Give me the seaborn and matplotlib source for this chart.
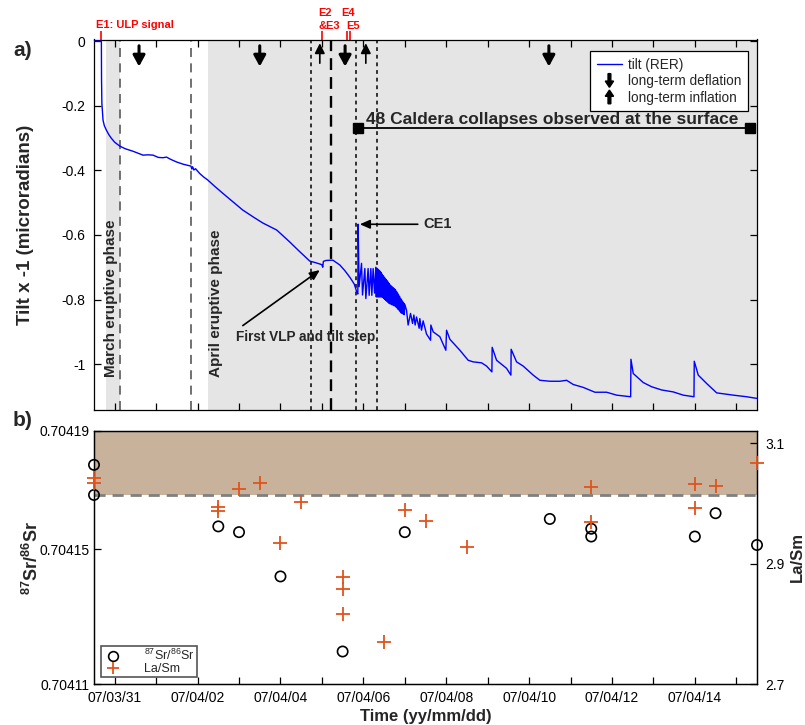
import matplotlib
matplotlib.use("Agg")
import numpy as np
import pandas as pd
import matplotlib.pyplot as plt
import matplotlib.dates as mdates
from matplotlib.patches import FancyArrow
from matplotlib.legend_handler import HandlerPatch
from matplotlib.lines import Line2D
import seaborn as sns

# ---------------- DATA ----------------
T0 = "2007-03-31"
# tilt (RER) trace: days after 2007-03-31 00:00, tilt x -1 (microradians)
tilt_day = [-0.50, -0.322, -0.318, -0.31, -0.282, -0.25, -0.20, -0.14, -0.08, 0.0,
            0.121, 0.25, 0.442, 0.683, 0.80, 0.925, 1.05, 1.166, 1.248, 1.35,
            1.490, 1.65, 1.811, 1.84, 1.86, 1.88, 1.91, 1.95, 2.052, 2.15,
            2.245, 2.40, 2.607, 2.85, 3.090, 3.35, 3.573, 3.911, 4.225, 4.45,
            4.708, 4.85, 4.998, 5.020, 5.035, 5.10, 5.263, 5.432, 5.55, 5.674,
            5.78, 5.843, 5.867, 5.874, 5.898,
            5.956, 5.980, 6.036, 6.060, 6.115, 6.140, 6.181, 6.205, 6.236, 6.270,
            6.3000, 6.3125, 6.3250, 6.3375, 6.3500, 6.3625, 6.3750, 6.3875, 6.4000, 6.4125,
            6.4250, 6.4375, 6.4500, 6.4625, 6.4750, 6.4875, 6.5000, 6.5125, 6.5250, 6.5375,
            6.5500, 6.5625, 6.5750, 6.5875, 6.6000, 6.6125, 6.6250, 6.6375, 6.6500, 6.6625,
            6.6750, 6.6875, 6.7000, 6.7125, 6.7250, 6.7375, 6.7500, 6.7625, 6.7750, 6.7875,
            6.8000, 6.8125, 6.8250, 6.8375, 6.8500, 6.8625, 6.8750, 6.8875, 6.9000, 6.9125,
            6.9250, 6.9375, 6.9500, 6.9625, 6.9750, 6.9875, 7.0000,
            7.042, 7.081, 7.139, 7.187, 7.219, 7.250, 7.284, 7.347, 7.363, 7.404,
            7.443, 7.525, 7.622, 7.629, 7.685, 7.846, 7.991, 8.008, 8.088, 8.329,
            8.530, 8.650, 8.853, 8.974, 9.102, 9.109, 9.215, 9.456, 9.561, 9.567,
            9.698, 9.857, 10.099, 10.261, 10.502, 10.744, 10.905, 11.065, 11.306, 11.589,
            11.871, 12.113, 12.451, 12.458, 12.513, 12.755, 12.957, 13.199, 13.479, 13.720,
            13.979, 13.986, 14.082, 14.285, 14.527, 14.927, 15.251, 15.493]
tilt_val = [0.0, 0.0, -0.120, -0.192, -0.245, -0.262, -0.276, -0.290, -0.301, -0.313,
            -0.325, -0.333, -0.341, -0.353, -0.352, -0.353, -0.360, -0.361, -0.359, -0.366,
            -0.374, -0.381, -0.386, -0.387, -0.396, -0.389, -0.399, -0.395, -0.410, -0.421,
            -0.430, -0.448, -0.471, -0.497, -0.523, -0.545, -0.563, -0.585, -0.622, -0.650,
            -0.681, -0.686, -0.692, -0.700, -0.682, -0.679, -0.678, -0.693, -0.710, -0.731,
            -0.752, -0.777, -0.783, -0.567, -0.760,
            -0.688, -0.786, -0.704, -0.797, -0.704, -0.787, -0.704, -0.787, -0.704, -0.780,
            -0.700, -0.792, -0.703, -0.792, -0.706, -0.792, -0.709, -0.792, -0.712, -0.792,
            -0.716, -0.792, -0.721, -0.793, -0.726, -0.796, -0.730, -0.799, -0.734, -0.802,
            -0.738, -0.805, -0.742, -0.808, -0.746, -0.811, -0.751, -0.813, -0.755, -0.814,
            -0.758, -0.816, -0.761, -0.817, -0.764, -0.819, -0.767, -0.820, -0.770, -0.823,
            -0.775, -0.826, -0.780, -0.830, -0.786, -0.833, -0.791, -0.837, -0.797, -0.841,
            -0.802, -0.843, -0.807, -0.845, -0.811, -0.847, -0.815,
            -0.833, -0.879, -0.843, -0.874, -0.848, -0.879, -0.854, -0.889, -0.859, -0.895,
            -0.866, -0.907, -0.926, -0.879, -0.900, -0.915, -0.957, -0.895, -0.923, -0.957,
            -0.988, -0.993, -0.996, -1.006, -1.024, -0.948, -0.988, -1.013, -1.034, -0.954,
            -0.993, -1.006, -1.034, -1.050, -1.053, -1.053, -1.050, -1.063, -1.072, -1.087,
            -1.087, -1.096, -1.101, -0.985, -1.029, -1.057, -1.070, -1.080, -1.086, -1.096,
            -1.101, -0.991, -1.034, -1.060, -1.089, -1.096, -1.101, -1.106]

# 87Sr/86Sr samples
sr_time = ["2007-03-30 12:00", "2007-03-30 12:00", "2007-04-02 12:00", "2007-04-03 00:00",
           "2007-04-04 00:00", "2007-04-05 12:00", "2007-04-07 00:00", "2007-04-10 12:00",
           "2007-04-11 12:00", "2007-04-11 12:00", "2007-04-14 00:00", "2007-04-14 12:00",
           "2007-04-15 12:00"]
sr_val = [0.7041749, 0.7041660, 0.7041567, 0.7041550, 0.7041419, 0.7041197, 0.7041550,
          0.7041589, 0.7041560, 0.7041537, 0.7041537, 0.7041606, 0.7041512]

# La/Sm samples
lasm_time = ["2007-03-30 12:00", "2007-03-30 12:00", "2007-04-02 12:00", "2007-04-02 12:00",
             "2007-04-03 00:00", "2007-04-03 12:00", "2007-04-04 00:00", "2007-04-04 12:00",
             "2007-04-05 12:00", "2007-04-05 12:00", "2007-04-05 12:00", "2007-04-06 12:00",
             "2007-04-07 00:00", "2007-04-07 12:00", "2007-04-08 12:00", "2007-04-11 12:00",
             "2007-04-11 12:00", "2007-04-14 00:00", "2007-04-14 00:00", "2007-04-14 12:00",
             "2007-04-15 12:00"]
lasm_val = [3.042, 3.035, 2.995, 2.988, 3.025, 3.034, 2.934, 3.002, 2.878, 2.858, 2.816,
            2.770, 2.990, 2.971, 2.928, 3.027, 2.969, 3.032, 2.993, 3.030, 3.067]

sr_threshold = 0.704166

xlim = ("2007-03-30 12:00", "2007-04-15 12:00")
xtick_dates = pd.date_range("2007-03-31", "2007-04-15", freq="D")
xtick_labels = ["07/03/31", "", "07/04/02", "", "07/04/04", "", "07/04/06", "",
                "07/04/08", "", "07/04/10", "", "07/04/12", "", "07/04/14", ""]
tilt_ticks = [-1, -0.8, -0.6, -0.4, -0.2, 0]
tilt_ticklabels = ["-1", "-0.8", "-0.6", "-0.4", "-0.2", "0"]
sr_ticks = [0.70411, 0.70415, 0.704185]
sr_ticklabels = ["0.70411", "0.70415", "0.70419"]
lasm_ticks = [2.7, 2.9, 3.1]
lasm_ticklabels = ["2.7", "2.9", "3.1"]

shade_spans = [("2007-03-30 18:47", "2007-03-31 02:54"), ("2007-04-02 05:53", "2007-04-15 12:00")]
phase_lines = ["2007-03-31 02:54", "2007-04-01 20:02"]
event_dotted = ["2007-04-04 17:24", "2007-04-05 20:02", "2007-04-06 07:38"]
event_dashed = ["2007-04-05 05:27"]
deflation_arrows = ["2007-03-31 14:05", "2007-04-03 12:00", "2007-04-05 13:26", "2007-04-10 11:28"]
inflation_arrows = ["2007-04-04 22:47", "2007-04-06 01:26"]
e_ticks = ["2007-03-30 16:18", "2007-04-04 23:46", "2007-04-05 14:15", "2007-04-05 16:10"]
# label, anchor event time, dx (pt), dy (pt), ha
e_labels = [("E1: ULP signal", "2007-03-30 16:18", -4.1, 8.3, "left"),
            ("E2", "2007-04-04 23:46", 2.4, 16.9, "center"),
            ("&E3", "2007-04-04 23:46", 5.3, 7.6, "center"),
            ("E4", "2007-04-05 14:15", 0.9, 16.9, "center"),
            ("E5", "2007-04-05 16:10", 2.2, 7.6, "center")]
collapse_span = ("2007-04-05 21:06", "2007-04-15 07:55")
collapse_level = -0.268

# ---------------- STYLE ----------------
sns.set_theme(style="white", rc={"xtick.direction": "in", "ytick.direction": "in"})
plt.rcParams["font.family"] = ["Liberation Sans", "DejaVu Sans"]
plt.rcParams["mathtext.fontset"] = "custom"
plt.rcParams["mathtext.rm"] = "Liberation Sans"
plt.rcParams["mathtext.bf"] = "Liberation Sans:bold"
plt.rcParams["mathtext.it"] = "Liberation Sans:italic"

ts = pd.to_datetime
d2n = lambda s: mdates.date2num(ts(s))

fig = plt.figure(figsize=(8.05, 7.25), dpi=100)
W, H = 805.0, 725.0
L, R = 94.0, 757.0
ax = fig.add_axes([L / W, 1 - 410 / H, (R - L) / W, (410 - 39.5) / H])
axb = fig.add_axes([L / W, 1 - 684.3 / H, (R - L) / W, (684.3 - 430.7) / H])

# ---------------- TOP PANEL ----------------
for a, b in shade_spans:
    ax.axvspan(ts(a), ts(b), color="#e5e5e5", lw=0, zorder=0)
for t in phase_lines:
    ax.axvline(ts(t), color="#666666", lw=1.3, ls=(0, (5, 3.5)), zorder=1)
for t in event_dotted:
    ax.axvline(ts(t), color="black", lw=1.1, ls=(0, (2.5, 2.5)), zorder=1)
for t in event_dashed:
    ax.axvline(ts(t), color="black", lw=1.7, ls=(0, (5, 3)), zorder=1)

tilt_time = ts(T0) + pd.to_timedelta(tilt_day, unit="D")
df_tilt = pd.DataFrame({"time": tilt_time, "tilt": tilt_val})
sns.lineplot(data=df_tilt, x="time", y="tilt", ax=ax, color="blue", lw=1.0,
             estimator=None, sort=False, zorder=3)

# collapse bar
ax.plot([ts(collapse_span[0]), ts(collapse_span[1])], [collapse_level] * 2,
        color="black", lw=1.3, marker="s", ms=7, zorder=4)
ax.annotate("48 Caldera collapses observed at the surface",
            xy=(ts(collapse_span[0]), collapse_level), xytext=(5.5, 0.5),
            textcoords="offset points", ha="left", va="bottom",
            fontsize=12.5, fontweight="bold")

# arrows for deflation / inflation
for t in deflation_arrows:
    ax.annotate("", xy=(d2n(t), 0.927), xytext=(d2n(t), 0.983),
                xycoords=("data", "axes fraction"),
                arrowprops=dict(arrowstyle="-|>,head_length=0.55,head_width=0.3",
                                lw=2.2, color="black", mutation_scale=12,
                                shrinkA=0, shrinkB=0))
for t in inflation_arrows:
    ax.annotate("", xy=(d2n(t), 0.990), xytext=(d2n(t), 0.936),
                xycoords=("data", "axes fraction"),
                arrowprops=dict(arrowstyle="-|>,head_length=0.6,head_width=0.3",
                                lw=1.2, color="black", mutation_scale=10,
                                shrinkA=0, shrinkB=0))

# event markers above the panel
ax.vlines([ts(t) for t in e_ticks], 1.0, 1.023, transform=ax.get_xaxis_transform(),
          colors="red", lw=1.2, clip_on=False)
for lab, t, dx, dy, ha in e_labels:
    ax.annotate(lab, xy=(d2n(t), 1.0), xycoords=("data", "axes fraction"),
                xytext=(dx, dy), textcoords="offset points", ha=ha, va="baseline",
                color="red", fontsize=8, fontweight="bold", annotation_clip=False)

# annotations
ax.annotate("CE1", xy=(ts("2007-04-05 21:58"), -0.567), xytext=(ts("2007-04-07 11:02"), -0.567),
            ha="left", va="center", fontsize=10.5, fontweight="bold",
            arrowprops=dict(arrowstyle="-|>,head_length=0.5,head_width=0.22", lw=1.2,
                            color="black", mutation_scale=12, shrinkA=2, shrinkB=0))
ax.annotate("First VLP and tilt step", xy=(ts("2007-04-04 22:47"), -0.709),
            xytext=(ts("2007-04-02 22:06"), -0.915), ha="left", va="center",
            fontsize=9.8, fontweight="bold",
            arrowprops=dict(arrowstyle="-|>,head_length=0.5,head_width=0.22", lw=1.2,
                            color="black", mutation_scale=12, shrinkA=1, shrinkB=0,
                            relpos=(0.01, 1.0)))
ax.text(ts("2007-03-30 21:40"), -1.040, "March eruptive phase", rotation=90,
        ha="center", va="bottom", fontsize=11, fontweight="bold")
ax.text(ts("2007-04-02 10:55"), -1.040, "April eruptive phase", rotation=90,
        ha="center", va="bottom", fontsize=11, fontweight="bold")

ax.set_xlim(ts(xlim[0]), ts(xlim[1]))
ax.set_ylim(-1.142, 0.005)
ax.set_xticks(xtick_dates)
ax.set_xticklabels([])
ax.set_yticks(tilt_ticks)
ax.set_yticklabels(tilt_ticklabels)
ax.tick_params(axis="both", which="both", direction="in", length=5, width=0.9,
               top=True, bottom=True, left=True, right=True, labelsize=10, colors="black")
ax.tick_params(axis="y", pad=6)
ax.set_xlabel("")
ax.set_ylabel("Tilt x -1 (microradians)", fontsize=13.5, fontweight="bold", labelpad=20)
for s in ax.spines.values():
    s.set_color("black"); s.set_linewidth(0.9)


def _down(legend, orig_handle, xdescent, ydescent, width, height, fontsize):
    cx = width / 2.0 - xdescent
    return FancyArrow(cx, height + 1.5 - ydescent, 0, -(height + 3.0), width=2.0,
                      head_width=6.0, head_length=4.5, length_includes_head=True,
                      color="black")


def _up(legend, orig_handle, xdescent, ydescent, width, height, fontsize):
    cx = width / 2.0 - xdescent
    return FancyArrow(cx, -1.5 - ydescent, 0, (height + 3.0), width=2.0,
                      head_width=6.0, head_length=4.5, length_includes_head=True,
                      color="black")


dproxy = FancyArrow(0, 0, 0, 1, color="black")
uproxy = FancyArrow(0, 0, 0, 1, color="black")
leg = ax.legend([Line2D([], [], color="blue", lw=1), dproxy, uproxy],
                ["tilt (RER)", "long-term deflation", "long-term inflation"],
                handler_map={dproxy: HandlerPatch(patch_func=_down),
                             uproxy: HandlerPatch(patch_func=_up)},
                loc="upper right", bbox_to_anchor=(0.9864, 0.969), borderaxespad=0,
                fontsize=9.8, frameon=True, fancybox=False, edgecolor="black",
                framealpha=1, handlelength=1.8, handletextpad=0.45,
                labelspacing=0.18, borderpad=0.5)
leg.get_frame().set_linewidth(0.9)

# ---------------- BOTTOM PANEL ----------------
axb.axhspan(sr_threshold, 0.7042, color="#c8b29b", lw=0, zorder=0)
axb.axhline(sr_threshold, color="#808080", lw=2.0, ls=(0, (4, 2.5)), zorder=1)
df_sr = pd.DataFrame({"time": ts(sr_time), "sr": sr_val})
sns.scatterplot(data=df_sr, x="time", y="sr", ax=axb, marker="o", s=55,
                facecolors="none", edgecolors="black", linewidths=1.2, zorder=4,
                clip_on=False)
axb.set_xlim(ts(xlim[0]), ts(xlim[1]))
axb.set_ylim(0.70411, 0.704185)
axb.set_yticks(sr_ticks)
axb.set_yticklabels(sr_ticklabels)
axb.set_xticks(xtick_dates)
axb.set_xticklabels(xtick_labels)
axb.tick_params(axis="both", which="both", direction="in", length=5, width=0.9,
                bottom=True, left=True, top=False, right=False, labelsize=10, colors="black")
axb.tick_params(axis="x", pad=5)
axb.set_xlabel("Time (yy/mm/dd)", fontsize=12, fontweight="bold", labelpad=3)
axb.set_ylabel(r"$\mathbf{^{87}Sr/^{86}Sr}$", fontsize=13, labelpad=-2)

axr = axb.twinx()
df_la = pd.DataFrame({"time": ts(lasm_time), "lasm": lasm_val})
sns.scatterplot(data=df_la, x="time", y="lasm", ax=axr, marker="+", s=90,
                color="#e0541c", linewidth=1.3, zorder=4, clip_on=False)
axr.set_xlim(ts(xlim[0]), ts(xlim[1]))
axr.set_ylim(2.7, 3.121)
axr.set_yticks(lasm_ticks)
axr.set_yticklabels(lasm_ticklabels)
axr.tick_params(axis="y", direction="in", length=5, width=0.9, right=True,
                labelsize=10, colors="black", pad=6)
axr.set_ylabel("La/Sm", fontsize=12, fontweight="bold", labelpad=4)
axr.set_xlabel("")
for a_ in (axb, axr):
    for s in a_.spines.values():
        s.set_color("black"); s.set_linewidth(0.9)

legb = axr.legend([Line2D([], [], marker="o", ls="", mfc="none", mec="black", ms=7, mew=1.2),
                   Line2D([], [], marker="+", ls="", color="#e0541c", ms=9, mew=1.3)],
                  [r"$^{87}$Sr/$^{86}$Sr", "La/Sm"], loc="lower left",
                  bbox_to_anchor=(0.0106, 0.029), borderaxespad=0, fontsize=9,
                  frameon=True, fancybox=False, edgecolor="#555555", framealpha=1,
                  handlelength=1.6, handletextpad=1.7, labelspacing=0.0,
                  borderpad=0.15)
legb.get_frame().set_linewidth(1.2)

fig.text(13 / W, 1 - 50 / H, "a)", fontsize=15, fontweight="bold", ha="left", va="center")
fig.text(13 / W, 1 - 420 / H, "b)", fontsize=15, fontweight="bold", ha="left", va="center")

fig.savefig("out.png", dpi=100)
